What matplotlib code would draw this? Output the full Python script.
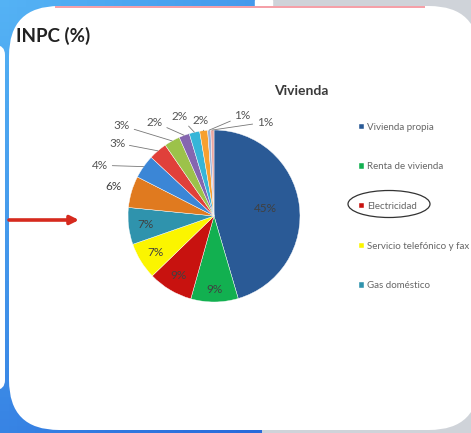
import numpy as np
import matplotlib.pyplot as plt
from matplotlib.patches import FancyBboxPatch, Ellipse, Rectangle

# INPC (%) - Vivienda
shares = [46, 9, 8.5, 7, 7, 6, 4.5, 3.5, 3, 2, 2, 1.5, 0.6, 0.6]
pct_labels = ['45%', '9%', '9%', '7%', '7%', '6%', '4%', '3%', '3%',
              '2%', '2%', '2%', '1%', '1%']
legend_names = ['Vivienda propia', 'Renta de vivienda', 'Electricidad',
                'Servicio telefónico y fax', 'Gas doméstico']
colors = ['#2a5a96', '#12b050', '#c8120f', '#fbf500', '#2f93ad', '#e07a1f',
          '#3b86d6', '#e0403a', '#9cc24a', '#8566b0', '#36b5d8', '#f7a030',
          '#9db4dc', '#eaa5a0']

# label placement: radius and angle (deg clockwise from 12 o'clock, None = middle of slice)
lab_r = [0.6, 0.85, 0.8, 0.8, 0.8, 1.22, 1.45, 1.41, 1.5, 1.29, 1.22, 1.12, 1.21, 1.24]
lab_ang = [None, None, None, None, None, None, 294, 307, 314.5, 327.7, 341, 352, 15.9, 28.5]
leader = [False] * 6 + [True] * 8

W, H = 471, 433
fig = plt.figure(figsize=(W / 100, H / 100), dpi=100)
bg = fig.add_axes([0, 0, 1, 1])
bg.set_xlim(0, W)
bg.set_ylim(H, 0)
bg.axis('off')

# slide background
bg.add_patch(Rectangle((0, 0), W, H, color='#cfd3d9', zorder=0))
gy, gx = np.mgrid[0:1:60j, 0:1:30j]
grad = np.zeros((60, 30, 3))
top = np.array([0.33, 0.70, 0.96])
bot = np.array([0.16, 0.42, 0.86])
for k in range(3):
    grad[..., k] = top[k] + (bot[k] - top[k]) * (0.65 * gy + 0.35 * gx)
bg.imshow(grad, extent=[0, 262, H, 0], aspect='auto', zorder=1)
bg.add_patch(Rectangle((255, 0), 17, 8, color='white', zorder=1))
bg.add_patch(FancyBboxPatch((-30, 45), 35, 345, boxstyle='round,pad=0,rounding_size=10',
                            fc='white', ec='none', zorder=2))

# card
card = FancyBboxPatch((9, 6), 470, 424, boxstyle='round,pad=0,rounding_size=50',
                      fc='white', ec='none', zorder=3)
bg.add_patch(card)
bg.add_patch(Rectangle((55, 5.5), 370, 2, color='#f5a0a8', lw=0, zorder=4))

t = bg.text(16, 36, 'INPC (%)', fontsize=13.5, fontweight='bold', family='Lato',
            color='#222222', va='center', ha='left', zorder=5)
t.set_clip_path(card)
bg.text(301, 91, 'Vivienda', fontsize=10, fontweight='bold', family='Lato',
        color='#3a3a3a', va='center', ha='center', zorder=5)

# red arrow
bg.annotate('', xy=(79, 220), xytext=(9, 220), zorder=6,
            arrowprops=dict(arrowstyle='-|>,head_length=0.5,head_width=0.25',
                            color='#d62a1e', lw=2.6, shrinkA=0, shrinkB=0))

# pie
cx, cy, R = 214, 216, 86
ax = fig.add_axes([(cx - R) / W, 1 - (cy + R) / H, 2 * R / W, 2 * R / H])
wedges, _ = ax.pie(shares, colors=colors, startangle=90, counterclock=False,
                   wedgeprops=dict(linewidth=0.3, edgecolor='white'))
ax.set_xlim(-1, 1)
ax.set_ylim(-1, 1)
ax.set_aspect('equal')
ax.axis('off')

for w, lab, r, ang, ld in zip(wedges, pct_labels, lab_r, lab_ang, leader):
    mid = 90 - (w.theta1 + w.theta2) / 2  # clockwise from top
    a = mid if ang is None else ang
    tx, ty = r * np.sin(np.radians(a)), r * np.cos(np.radians(a))
    if ld:
        ex, ey = np.sin(np.radians(mid)), np.cos(np.radians(mid))
        ax.annotate(lab, xy=(ex, ey), xytext=(tx, ty), fontsize=8.5, family='Lato',
                    color='#555555', ha='center', va='center', annotation_clip=False,
                    arrowprops=dict(arrowstyle='-', color='#777777', lw=0.6,
                                    shrinkA=1, shrinkB=0))
    else:
        ax.text(tx, ty, lab, fontsize=8.5, family='Lato', color='#404040',
                ha='center', va='center')

# legend
leg = bg.legend(wedges[:5], legend_names, loc='upper left', bbox_to_anchor=(354, 118),
                bbox_transform=bg.transData, frameon=False, labelspacing=3.15,
                handlelength=0.5, handleheight=0.5, handletextpad=0.35, borderpad=0,
                prop={'family': 'Lato', 'size': 7}, labelcolor='#666666')
leg.set_zorder(6)

bg.add_patch(Ellipse((389, 204), 82, 27, fill=False, ec='#333333', lw=0.9, zorder=6))

fig.savefig('out.png', dpi=100)
